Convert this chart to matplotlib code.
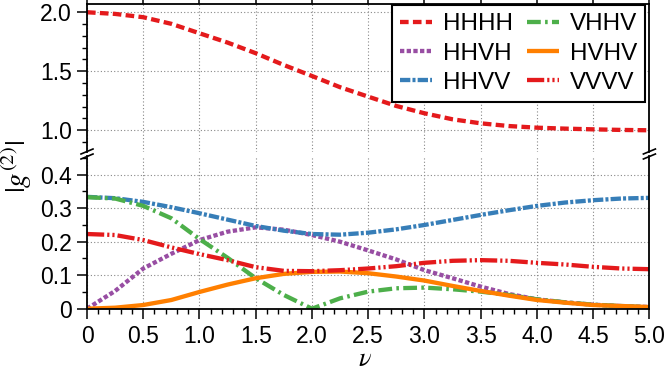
import matplotlib
matplotlib.use('Agg')
import matplotlib.pyplot as plt
from matplotlib.ticker import MultipleLocator, FuncFormatter
from matplotlib.lines import Line2D

plt.rcParams['font.family'] = ['Liberation Sans', 'DejaVu Sans']
plt.rcParams['mathtext.fontset'] = 'stix'

# ---- data ----
nu = [0.0, 0.25, 0.5, 0.75, 1.0, 1.25, 1.5, 1.75, 2.0, 2.25, 2.5,
      2.75, 3.0, 3.25, 3.5, 3.75, 4.0, 4.25, 4.5, 4.75, 5.0]
HHHH = [2.000, 1.986, 1.958, 1.902, 1.822, 1.743, 1.653, 1.553, 1.460, 1.365, 1.285,
        1.206, 1.144, 1.093, 1.059, 1.036, 1.022, 1.014, 1.008, 1.003, 1.000]
HHVH = [0.000, 0.053, 0.120, 0.164, 0.205, 0.230, 0.243, 0.236, 0.220, 0.200, 0.174,
        0.147, 0.115, 0.091, 0.066, 0.044, 0.028, 0.019, 0.012, 0.008, 0.005]
HHVV = [0.334, 0.330, 0.319, 0.303, 0.285, 0.266, 0.247, 0.233, 0.223, 0.221, 0.227,
        0.237, 0.250, 0.265, 0.280, 0.294, 0.307, 0.317, 0.324, 0.329, 0.331]
VHHV = [0.333, 0.329, 0.307, 0.270, 0.208, 0.152, 0.091, 0.041, 0.000, 0.031, 0.051,
        0.061, 0.063, 0.058, 0.051, 0.041, 0.028, 0.019, 0.012, 0.008, 0.004]
HVHV = [0.000, 0.003, 0.011, 0.026, 0.050, 0.072, 0.091, 0.104, 0.110, 0.111, 0.106,
        0.096, 0.084, 0.068, 0.053, 0.039, 0.026, 0.018, 0.011, 0.008, 0.005]
VVVV = [0.223, 0.220, 0.205, 0.183, 0.163, 0.145, 0.124, 0.113, 0.112, 0.115, 0.120,
        0.127, 0.137, 0.143, 0.145, 0.143, 0.137, 0.132, 0.125, 0.120, 0.118]

labels = ['HHHH', 'HHVH', 'HHVV', 'VHHV', 'HVHV', 'VVVV']
colors = ['#e41a1c', '#984ea3', '#377eb8', '#4daf4a', '#ff7f00', '#e41a1c']
dashes = [(2, 1), (1, 0.55), (2.4, 0.5, 0.7, 0.5), (3.2, 1.0, 0.6, 1.0), None,
          (4, 0.7, 0.5, 0.7, 0.5, 0.7)]
series = [HHHH, HHVH, HHVV, VHHV, HVHV, VVVV]

W, H = 665, 372
fig = plt.figure(figsize=(W / 100, H / 100), dpi=100)
L, R = 87 / W, 649.4 / W
ax_top = fig.add_axes([L, 1 - 152 / H, R - L, (152 - 4) / H])
ax_bot = fig.add_axes([L, 1 - 308.7 / H, R - L, (308.7 - 156) / H])

lw = 3.1
for ax in (ax_top, ax_bot):
    for lab, col, ds, ys in zip(labels, colors, dashes, series):
        if lab == 'HHHH' and ax is ax_bot:
            continue
        if lab != 'HHHH' and ax is ax_top:
            continue
        ln, = ax.plot(nu, ys, color=col, lw=lw, label=lab, solid_capstyle='butt',
                      dash_capstyle='butt')
        if ds is not None:
            ln.set_dashes(ds)
    ax.set_xlim(0, 5)
    ax.xaxis.set_major_locator(MultipleLocator(0.5))
    ax.grid(True, which='major', linestyle=(0, (1, 2)), color='#888888', lw=0.8)
    for s in ax.spines.values():
        s.set_linewidth(1.3)

ax_top.set_ylim(0.816, 2.07)
ax_top.yaxis.set_major_locator(MultipleLocator(0.5))
ax_top.yaxis.set_minor_locator(MultipleLocator(0.1))
ax_top.yaxis.set_major_formatter(FuncFormatter(lambda v, p: f'{v:.1f}'))
ax_top.spines['bottom'].set_visible(False)
ax_top.xaxis.tick_top()
ax_top.tick_params(axis='x', which='both', labeltop=False, direction='out', length=4, width=1)

ax_bot.set_ylim(0, 0.456)
ax_bot.yaxis.set_major_locator(MultipleLocator(0.1))
ax_bot.yaxis.set_minor_locator(MultipleLocator(0.05))
ax_bot.xaxis.set_minor_locator(MultipleLocator(0.1))
fmt = FuncFormatter(lambda v, p: '0' if abs(v) < 1e-9 else f'{v:.1f}')
ax_bot.yaxis.set_major_formatter(fmt)
ax_bot.xaxis.set_major_formatter(fmt)
ax_bot.spines['top'].set_visible(False)
ax_bot.tick_params(axis='x', which='both', top=False)

for ax in (ax_top, ax_bot):
    ax.tick_params(axis='y', which='both', right=False, direction='out')
    ax.tick_params(which='major', length=7, width=1.1, labelsize=16.5, pad=4)
    ax.tick_params(which='minor', length=3.5, width=1.0)
ax_bot.tick_params(axis='x', which='major', pad=5)

# legend
handles = [l for l in ax_top.get_lines()] + [l for l in ax_bot.get_lines()]
leg = ax_top.legend(handles=handles, labels=labels, ncol=2, loc='upper right',
                    bbox_to_anchor=(0.993, 0.995), fontsize=17.5, frameon=True,
                    fancybox=False, framealpha=1, edgecolor='black',
                    handlelength=1.3, handletextpad=0.45, columnspacing=0.6,
                    labelspacing=0.3, borderpad=0.35, borderaxespad=0.0)
leg.get_frame().set_linewidth(1.5)

# broken-axis marks
for xf in (L, R):
    for yp in (151.5, 156.5):
        yf = 1 - yp / H
        fig.add_artist(Line2D([xf - 6 / W, xf + 6 / W], [yf - 2.5 / H, yf + 2.5 / H],
                              color='black', lw=1.2, transform=fig.transFigure,
                              clip_on=False))

fig.text(17 / W, 1 - 166 / H, r'$|g^{(2)}|$', rotation=90, ha='center', va='center',
         fontsize=21)
fig.text(365 / W, 1 - 359 / H, r'$\nu$', ha='center', va='center', fontsize=19)

fig.savefig('out.png', dpi=100)
